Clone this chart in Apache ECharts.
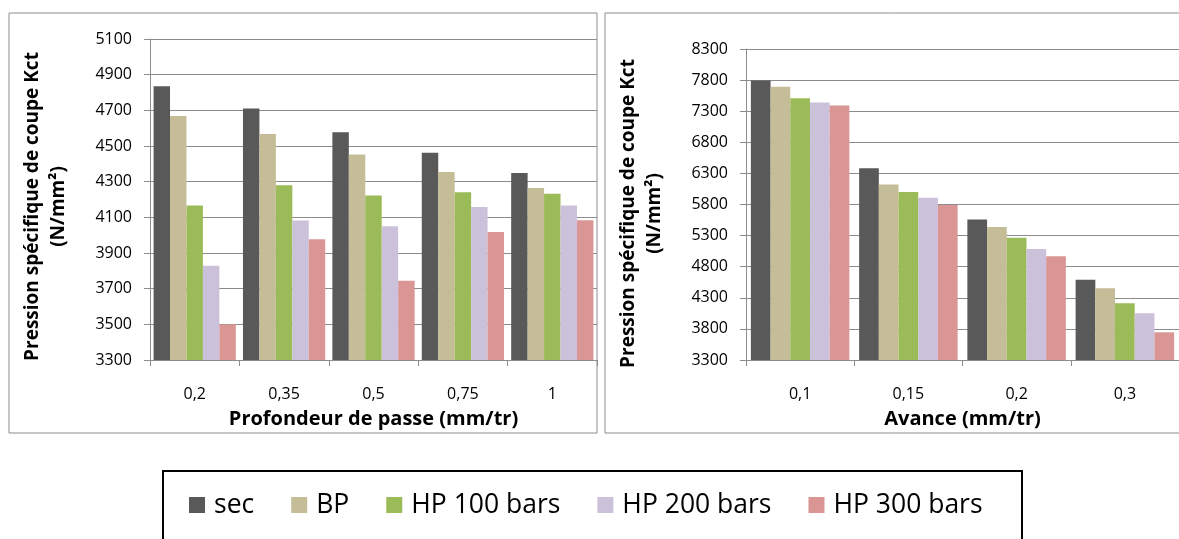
<!DOCTYPE html>
<html>
<head>
<meta charset="utf-8">
<script src="https://cdn.jsdelivr.net/npm/echarts@6/dist/echarts.min.js"></script>
<style>
html,body{margin:0;padding:0;background:#fff;}
#chart{width:1179px;height:539px;}
</style>
</head>
<body>
<div id="chart"></div>
<script>
// ---- data ----
const seriesNames = ['sec', 'BP', 'HP 100 bars', 'HP 200 bars', 'HP 300 bars'];

const depthCategories = ['0,2', '0,35', '0,5', '0,75', '1'];
const depthSec   = [4835, 4710, 4577, 4462, 4348];
const depthBP    = [4668, 4567, 4453, 4354, 4265];
const depthHP100 = [4166, 4280, 4223, 4240, 4232];
const depthHP200 = [3828, 4082, 4050, 4158, 4166];
const depthHP300 = [3500, 3977, 3745, 4018, 4084];

const feedCategories = ['0,1', '0,15', '0,2', '0,3'];
const feedSec   = [7795, 6382, 5557, 4592];
const feedBP    = [7695, 6120, 5440, 4452];
const feedHP100 = [7508, 6000, 5267, 4211];
const feedHP200 = [7438, 5910, 5085, 4050];
const feedHP300 = [7390, 5792, 4967, 3745];

const depthAxisMin = 3300, depthAxisMax = 5100, depthAxisStep = 200;
const feedAxisMin = 3300, feedAxisMax = 8300, feedAxisStep = 500;

const yTitle = 'Pression spécifique de coupe Kct\n(N/mm²)';
const depthXTitle = 'Profondeur de passe (mm/tr)';
const feedXTitle = 'Avance (mm/tr)';

// ---- styles ----
const colors = ['#595959', '#c4bd97', '#9bbb59', '#ccc1da', '#d99694'];
const FONT = 'Open Sans';
const gridGray = '#8c8c8c';

const depthData = [depthSec, depthBP, depthHP100, depthHP200, depthHP300];
const feedData = [feedSec, feedBP, feedHP100, feedHP200, feedHP300];

function xAxisCfg(idx, cats, title) {
  return {
    type: 'category', gridIndex: idx, data: cats,
    axisLine: { lineStyle: { color: gridGray, width: 1 } },
    axisTick: { show: true, alignWithLabel: false, length: 6, lineStyle: { color: gridGray } },
    axisLabel: { color: '#000', fontFamily: FONT, fontSize: 16, margin: 26 },
    name: title, nameLocation: 'middle', nameGap: 49,
    nameTextStyle: { color: '#000', fontFamily: FONT, fontWeight: 'bold', fontSize: 20 }
  };
}
function yAxisCfg(idx, mn, mx, step, shift) {
  return {
    type: 'value', gridIndex: idx, min: mn, max: mx, interval: step,
    axisLine: { show: true, lineStyle: { color: gridGray, width: 1 } },
    axisTick: { show: true, length: 6, lineStyle: { color: gridGray } },
    splitLine: { show: true, lineStyle: { color: gridGray, width: 1 } },
    axisLabel: { color: '#000', fontFamily: FONT, fontSize: 16, margin: 18, formatter: (v) => String(v) },
    name: yTitle, nameLocation: 'middle', nameRotate: 90, nameGap: 78,
    nameTextStyle: { color: '#000', fontFamily: FONT, fontWeight: 'bold', fontSize: 19, lineHeight: 26, align: 'center', padding: [0, shift, 0, 0] }
  };
}

const series = [];
seriesNames.forEach((n, i) => {
  series.push({ name: n, type: 'bar', xAxisIndex: 0, yAxisIndex: 0, data: depthData[i],
    barGap: '0%', barCategoryGap: '8%', itemStyle: { color: colors[i] } });
});
seriesNames.forEach((n, i) => {
  series.push({ name: n, type: 'bar', xAxisIndex: 1, yAxisIndex: 1, data: feedData[i],
    barGap: '0%', barCategoryGap: '9%', itemStyle: { color: colors[i] } });
});

const chart = echarts.init(document.getElementById('chart'), null, { renderer: 'canvas' });
chart.setOption({
  animation: false,
  color: colors,
  grid: [
    { left: 150, top: 39, width: 447, height: 321 },
    { left: 746, top: 49, width: 445, height: 311 }
  ],
  xAxis: [xAxisCfg(0, depthCategories, depthXTitle), xAxisCfg(1, feedCategories, feedXTitle)],
  yAxis: [yAxisCfg(0, depthAxisMin, depthAxisMax, depthAxisStep, 14), yAxisCfg(1, feedAxisMin, feedAxisMax, feedAxisStep, 18)],
  legend: {
    data: seriesNames, left: 184, top: 485, itemWidth: 16, itemHeight: 16, itemGap: 37,
    icon: 'rect',
    textStyle: { color: '#000', fontFamily: FONT, fontSize: 26.5, lineHeight: 30, padding: [0, 0, 0, 4] }
  },
  graphic: [
    { type: 'rect', z: -10, shape: { x: 9, y: 13, width: 588, height: 420 }, style: { fill: 'none', stroke: gridGray, lineWidth: 1 } },
    { type: 'rect', z: -10, shape: { x: 605, y: 13, width: 620, height: 420 }, style: { fill: 'none', stroke: gridGray, lineWidth: 1 } },
    { type: 'rect', z: -10, shape: { x: 163, y: 471, width: 859, height: 100 }, style: { fill: 'none', stroke: '#000', lineWidth: 2 } }
  ],
  series: series
});
</script>
</body>
</html>
